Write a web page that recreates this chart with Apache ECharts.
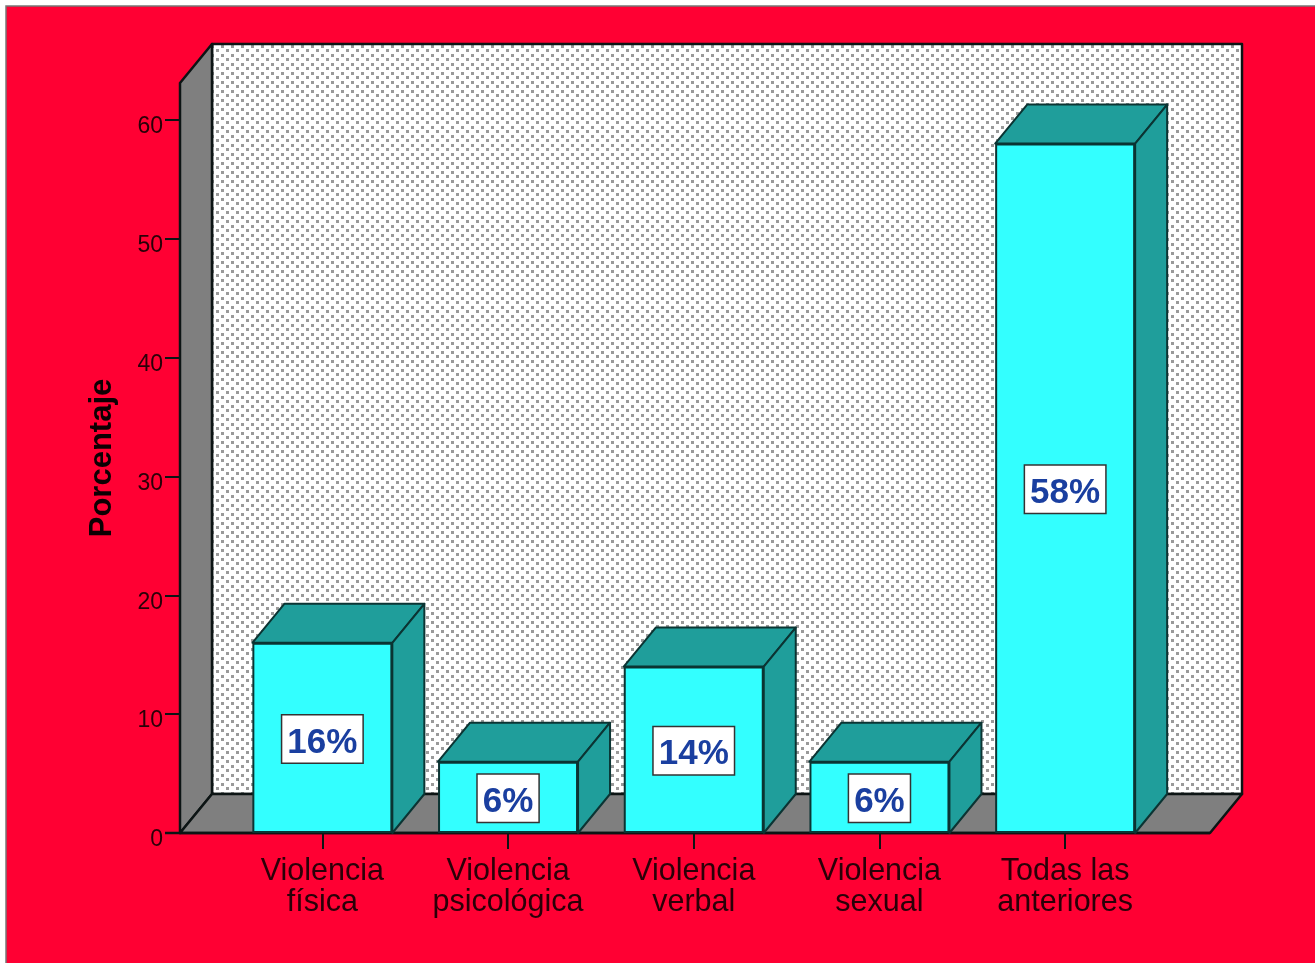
<!DOCTYPE html>
<html><head><meta charset="utf-8">
<style>html,body{margin:0;padding:0;background:#fff}#c{width:1315px;height:963px}</style>
<script src="https://cdn.jsdelivr.net/npm/echarts@6/dist/echarts.min.js"></script>
</head><body><div id="c"></div>
<script>
const categories = ['Violencia\nfísica','Violencia\npsicológica','Violencia\nverbal','Violencia\nsexual','Todas las\nanteriores'];
const values = [16,6,14,6,58];
const yTicks = [0,10,20,30,40,50,60];
const yMax = 63.1;

const DX = 32, DY = -39, FLOOR_LEFT = 49.5, FLOOR_RIGHT = 52;
const LINE = '#0c1414', BAR_LINE = '#0b3433';

function dots(){
  const c = document.createElement('canvas');
  c.width = 10; c.height = 9;
  const g = c.getContext('2d');
  g.fillStyle = '#fff'; g.fillRect(0,0,10,9);
  g.fillStyle = '#9a9a9a';
  g.fillRect(1,0,3,3); g.fillRect(6,4,3,3);
  return c;
}
const pattern = {image: dots(), repeat: 'repeat'};
const poly = (points, fill, stroke = LINE, lineWidth = 2.5) => ({type:'polygon', shape:{points}, style:{fill, stroke, lineWidth, lineJoin:'round'}});

const chart = echarts.init(document.getElementById('c'), null, {renderer:'canvas'});
chart.setOption({
  animation:false,
  backgroundColor:'#fff',
  graphic:[{type:'rect', z:-10, shape:{x:6,y:6,width:1320,height:970}, style:{fill:'#ff0033', stroke:'#777', lineWidth:1.5}}],
  grid:{left:229.5, width:928.5, top:83, height:750},
  xAxis:{type:'category', data:categories,
    axisLine:{show:false},
    axisTick:{show:true, alignWithLabel:true, length:16, lineStyle:{color:LINE,width:2}},
    axisLabel:{color:'#2a0008', fontFamily:'Liberation Sans', fontSize:30.5, lineHeight:31, margin:23, interval:0}},
  yAxis:{type:'value', min:0, max:yMax, offset:49.5,
    name:'Porcentaje', nameLocation:'middle', nameRotate:90, nameGap:62,
    nameTextStyle:{color:'#0d0003', fontFamily:'Liberation Sans', fontWeight:'bold', fontSize:31},
    splitLine:{show:false},
    axisLine:{show:false},
    axisTick:{show:true, length:15, customValues:yTicks, lineStyle:{color:LINE,width:2}},
    axisLabel:{color:'#2a0008', fontFamily:'Liberation Sans', fontSize:23, margin:17, customValues:yTicks,
      formatter:'{v|{value}}', rich:{v:{color:'#2a0008', fontFamily:'Liberation Sans', fontSize:23, padding:[14,0,0,0]}}}},
  series:[
    {type:'custom', z:1, clip:false, silent:true, data:[[0]],
     renderItem(p, api){
       const b = api.coord([0,0]), t = api.coord([0,yMax]);
       const band = api.size([1,0])[0];
       const x0 = b[0]-band/2-FLOOR_LEFT, x1 = b[0]-band/2+band*categories.length+FLOOR_RIGHT;
       const y0 = b[1], y1 = t[1];
       return {type:'group', children:[
         poly([[x0+DX,y1+DY],[x1+DX,y1+DY],[x1+DX,y0+DY],[x0+DX,y0+DY]], pattern),
         poly([[x0,y1],[x0+DX,y1+DY],[x0+DX,y0+DY],[x0,y0]], '#7f7f7f'),
         poly([[x0,y0],[x0+DX,y0+DY],[x1+DX,y0+DY],[x1,y0]], '#7f7f7f'),
         {type:'line', shape:{x1:x0-15,y1:y0,x2:x1,y2:y0}, style:{stroke:LINE,lineWidth:2.5}}
       ]};
     }},
    {type:'custom', z:2, clip:false, silent:true, data:values.map((v,i)=>[i,v]),
     renderItem(p, api){
       const i = api.value(0), v = api.value(1);
       const c = api.coord([i,v]), b = api.coord([i,0]);
       const w = 140, l = c[0]-w/2, r = c[0]+w/2;
       return {type:'group', children:[
         poly([[l,c[1]],[l+DX,c[1]+DY],[r+DX,c[1]+DY],[r,c[1]]], '#1f9e9b', BAR_LINE, 2),
         poly([[r,c[1]],[r+DX,c[1]+DY],[r+DX,b[1]+DY],[r,b[1]]], '#1f9e9b', BAR_LINE, 2)
       ]};
     }},
    {type:'bar', z:3, data:values, barWidth:140,
     itemStyle:{color:'#33ffff', borderColor:BAR_LINE, borderWidth:2},
     label:{show:true, position:'inside', offset:[0,1], formatter:'{t|{c}%}',
       rich:{t:{color:'#1a3fa0', fontFamily:'Liberation Sans', fontWeight:'bold', fontSize:35, lineHeight:36, padding:[3,0,0,0]}},
       backgroundColor:'#fff', borderColor:'#333', borderWidth:1.5, padding:[8,5,3,5]}}
  ]
});
</script></body></html>
